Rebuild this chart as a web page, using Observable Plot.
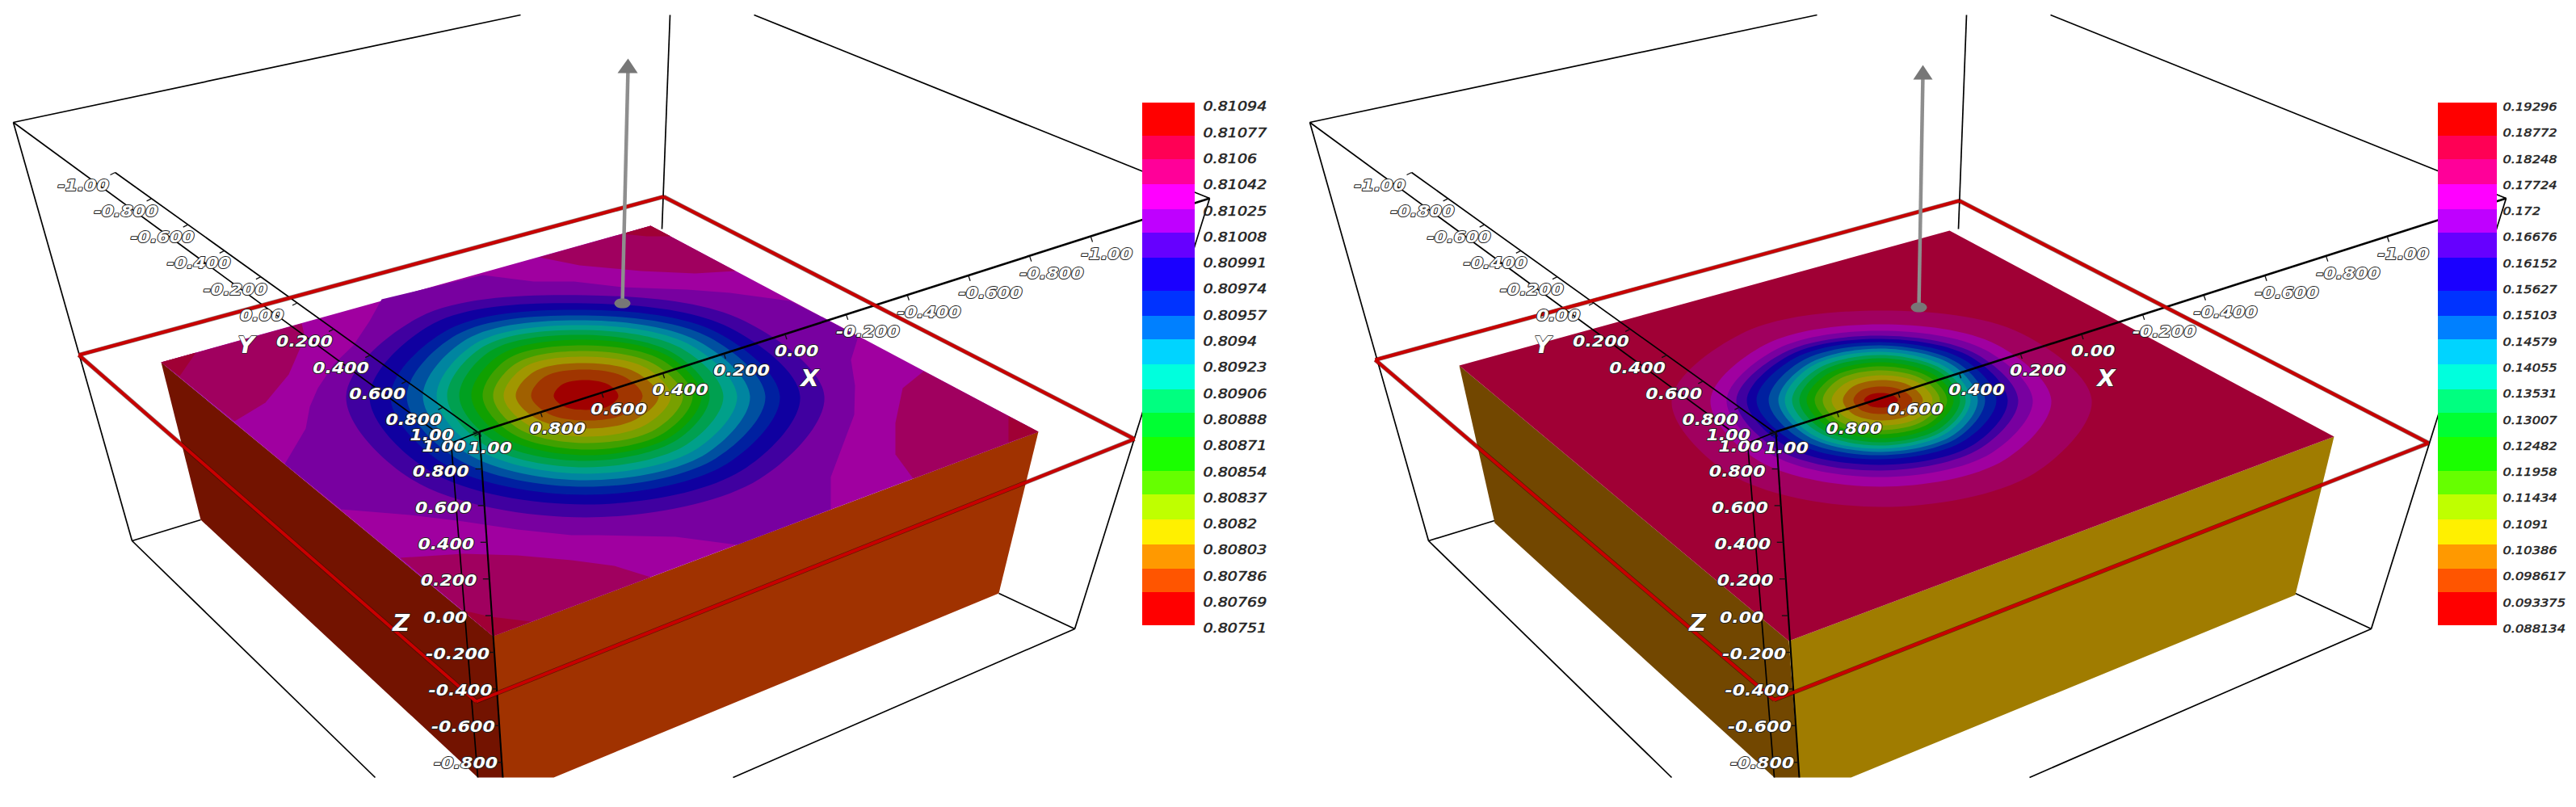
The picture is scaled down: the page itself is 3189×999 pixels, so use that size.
<!DOCTYPE html>
<html><head><meta charset="utf-8">
<script src="https://cdn.jsdelivr.net/npm/d3@7"></script>
<script src="https://cdn.jsdelivr.net/npm/@observablehq/plot@0.6"></script>
<style>
html,body{margin:0;padding:0;background:#fff;width:3189px;height:999px;overflow:hidden}
#row{display:flex;width:3189px;height:999px}
svg{display:block}
</style></head><body><div id="row"></div>
<script>
// ---------- values ----------
const legendLabelsA = ["0.81094","0.81077","0.8106","0.81042","0.81025","0.81008","0.80991","0.80974","0.80957","0.8094","0.80923","0.80906","0.80888","0.80871","0.80854","0.80837","0.8082","0.80803","0.80786","0.80769","0.80751"];
const legendLabelsB = ["0.19296","0.18772","0.18248","0.17724","0.172","0.16676","0.16152","0.15627","0.15103","0.14579","0.14055","0.13531","0.13007","0.12482","0.11958","0.11434","0.1091","0.10386","0.098617","0.093375","0.088134"];
const legendColors = ["#ff0000","#ff0055","#ff0099","#ff00ff","#bf00ff","#6600ff","#1a00ff","#0033ff","#0080ff","#00d4ff","#00ffdd","#00ff80","#00ff33","#1aff00","#66ff00","#bfff00","#fff000","#ff9900","#ff5500","#ff0000"];
// shaded surface colour of each band, centre of the bull's-eye outwards
const surfaceColors = ["#a00000","#a03500","#a06000","#a09700","#78a000","#40a000","#10a000","#00a020","#00a050","#00a08a","#0085a0","#0050a0","#0020a0","#1000a0","#4000a0","#7800a0","#a000a0","#a0005f"];
const tickValues = [-1,-0.8,-0.6,-0.4,-0.2,0,0.2,0.4,0.6,0.8,1];
const tickLabels = ["-1.00","-0.800","-0.600","-0.400","-0.200","0.00","0.200","0.400","0.600","0.800","1.00"];
// contour bands: reach from the bull's-eye along E, NE, N, NW, W, SW, S, SE
const contourReachA = [
 [40,29,20,30,40,27,17,27],[70,49,33,51,68,46,30,47],[90,62,41,64,87,60,40,61],[105,74,49,76,102,73,50,74],
 [120,84,56,86,115,84,58,86],[132,94,63,97,128,94,66,96],[143,103,70,107,142,104,73,105],[153,110,76,118,157,115,80,113],
 [170,121,82,128,172,126,88,125],[187,131,88,137,185,136,96,137],[203,141,94,148,202,148,104,149],[222,153,100,160,222,161,112,161],
 [240,164,107,172,242,176,122,175],[265,178,115,189,268,194,134,193],[295,196,125,206,297,216,150,215]];
const contourReachB = [
 [21,14,9,14,21,14,9,14],[39,26,17,25,34,25,17,26],[52,37,25,35,47,35,25,37],[64,46,31,44,61,44,31,46],
 [73,53,37,53,72,53,37,53],[82,60,42,60,82,60,42,60],[90,66,47,67,92,67,47,66],[98,73,52,74,101,74,52,73],
 [105,78,56,80,110,80,56,78],[111,83,60,87,119,87,60,83],[120,90,64,92,127,92,64,90],[129,96,68,100,139,100,68,96],
 [143,104,72,108,154,108,73,104],[157,112,76,115,166,118,80,115],[170,119,80,122,179,128,87,124],[188,130,86,131,191,138,95,137],
 [211,144,94,144,211,154,107,154],[261,174,111,173,259,189,132,190]];
// outermost band of the left panel, which reaches the edges of the top face
const purpleBandA = [[472,370],[597,340],[660,348],[710,348],[770,355],[850,358],[903,362],[977,372],[1013,390],[1062,416],[1053,445],[1058,477],[1057,513],[1028,590],[1028,630],[912,674],[836,664],[740,662],[707,662],[640,655],[573,645],[507,637],[422,630],[352,574],[378,530],[383,503],[393,480],[413,450],[437,427],[457,397]];
const cornerPatchesA = [
 [[199,448],[373,400],[377,417],[357,463],[328,498],[290,521]],
 [[1143,459],[1285,534],[1130,592],[1108,562],[1108,523],[1117,480]],
 [[495,690],[573,685],[640,687],[707,693],[760,700],[805,714],[610,787]],
 [[667,318],[805,279],[910,335],[860,338],[793,335],[717,328]]];
const cornerTipsA = [
 [[199,448],[242,436],[222,465]],[[1248,515],[1285,534],[1248,547]],
 [[572,755],[607,763],[657,769],[610,787]],[[770,289],[805,279],[830,292],[800,292]]];

// ---------- scene calibration of each view (pixels of the picture) ----------
const spokes = [[1,0],[1,-.476],[0,-1],[-1,-.476],[-1,0],[-1,.476],[0,1],[1,.476]];
const legendEdges = [127,168,197,228,259,288,319,360,391,420,451,482,511,541,583,612,643,674,704,733,774];
const views = [
 {w:1595,d:0,centre:[725,490],reach:contourReachA,base:"#a000a0",patches:cornerPatchesA,tips:cornerTipsA,purple:purpleBandA,
  leftFace:"#731300",rightFace:"#a03200",
  top:[[199,448],[805,279],[1285,534],[610,787]],
  lf:[[199,448],[610,787],[622,962],[591,962],[248,643]],
  rf:[[610,787],[1285,534],[1236,734],[685,962],[622,962]],
  red:[[97,439],[821,243],[1404,543],[589,868]],
  arrow:{b:[770,375],t:[777,84],head:[[764,90],[789,90],[777,72]]},
  legend:{x1:1414,x2:1479,tx:1489,labels:legendLabelsA,size:15,stretch:1.27}},
 {w:1594,d:10,centre:[733,495],reach:contourReachB,base:"#a00035",patches:[],tips:[],purple:null,
  leftFace:"#724700",rightFace:"#a07c00",
  top:[[211,452],[818,285],[1294,540],[619,793]],
  lf:[[211,452],[619,793],[632,962],[601,962],[255,647]],
  rf:[[619,793],[1294,540],[1246,736],[696,962],[632,962]],
  red:[[107,445],[830,248],[1411,548],[601,866]],
  arrow:{b:[780,380],t:[785,92],head:[[773,98],[797,98],[785,80]]},
  legend:{x1:1423,x2:1496,tx:1503,labels:legendLabelsB,size:14,stretch:1.16}}
];
const boxEdges = [
 [[16,151],[644,18]],[[16,151],[163,669]],[[163,669],[248,643]],[[163,669],[464,962]],
 [[829,18],[819,283]],[[933,18],[1497,245]],[[1497,245],[1330,778]],[[1330,778],[1236,734]],[[1330,778],[907,962]]];
const nearEdges = [[[16,151],[558,548]],[[558,548],[593,534]],[[558,548],[591,962]]];
const xAxis = {a:[593,534],b:[1350,293],end:[1497,245]};
const yAxis = {a:[142,213],b:[593,536]};
const zAxis = {a:[593,534.6],stepY:45.4,slope:.0678,end:[622,962]};
const xLab = {o:[579,554],s:[75.9,-23.95]}, yLab = {o:[71,229],s:[45.1,32.3]}, zLab = {o:[507,538],s:[3.3,45.2]};
const titles = [{t:"X",p:[1002,468]},{t:"Y",p:[304,427]},{t:"Z",p:[496,771]}];
const ball = [[-10,0],[-7,-4.5],[0,-6],[7,-4.5],[10,0],[7,4.5],[0,6],[-7,4.5]];

const poly = (pts,fill,extra={}) => Plot.line(pts.map(([x,y])=>({x,y})),{x:"x",y:"y",fill,stroke:"none",...extra});
const segs = (list,opt) => Plot.link(list,{x1:d=>d[0][0],y1:d=>d[0][1],x2:d=>d[1][0],y2:d=>d[1][1],...opt});

function drawView(v){
 const sh = p => [p[0]+v.d,p[1]];
 const marks = [];
 marks.push(segs(boxEdges.map(e=>e.map(sh)),{stroke:"#000",strokeWidth:1.7}));
 marks.push(poly(v.lf,v.leftFace),poly(v.rf,v.rightFace),poly(v.top,v.base));
 v.patches.forEach(p=>marks.push(poly(p,surfaceColors[17])));
 v.tips.forEach(p=>marks.push(poly(p,"#a00035")));
 if(v.purple) marks.push(poly(v.purple,surfaceColors[15]));
 for(let k=v.reach.length-1;k>=0;k--){
  const pts=v.reach[k].map((r,i)=>[v.centre[0]+r*spokes[i][0],v.centre[1]+r*spokes[i][1]]);
  marks.push(poly(pts,surfaceColors[k],{curve:"catmull-rom-closed"}));
 }
 marks.push(segs(nearEdges.map(e=>e.map(sh)),{stroke:"#000",strokeWidth:1.7}));
 // axes
 const xAt=t=>{const k=(1-t)/2;return [xAxis.a[0]+k*(xAxis.b[0]-xAxis.a[0])+v.d,xAxis.a[1]+k*(xAxis.b[1]-xAxis.a[1])]};
 const yAt=t=>{const k=(t+1)/2;return [yAxis.a[0]+k*(yAxis.b[0]-yAxis.a[0])+v.d,yAxis.a[1]+k*(yAxis.b[1]-yAxis.a[1])]};
 const zAt=t=>{const y=zAxis.a[1]+(1-t)/.2*zAxis.stepY;return [zAxis.a[0]+(y-zAxis.a[1])*zAxis.slope+v.d,y]};
 marks.push(segs([[sh(xAxis.a),sh(xAxis.end)]],{stroke:"#000",strokeWidth:2.6}));
 marks.push(segs([[sh(yAxis.a),sh(yAxis.b)]],{stroke:"#000",strokeWidth:1.7}));
 marks.push(segs([[sh(zAxis.a),sh(zAxis.end)]],{stroke:"#000",strokeWidth:2.1}));
 marks.push(segs(tickValues.map(t=>{const p=xAt(t);return [p,[p[0]+2,p[1]+6]]}),{stroke:"#111",strokeWidth:1.3}));
 marks.push(segs(tickValues.map(t=>{const p=yAt(t);return [p,[p[0]-6,p[1]+3]]}),{stroke:"#111",strokeWidth:1.3}));
 marks.push(segs(tickValues.slice(1).map(t=>{const p=zAt(t);return [p,[p[0]-8,p[1]]]}),{stroke:"#111",strokeWidth:1.3}));
 // the slice outline, with the dark casing it shows in the render
 const redEdges=v.red.map((p,i)=>[p,v.red[(i+1)%4]]);
 marks.push(segs(redEdges,{stroke:"#300",strokeWidth:5.4,strokeOpacity:.55}));
 marks.push(segs(redEdges,{stroke:"#c80000",strokeWidth:4}));
 // arrow
 marks.push(segs([[v.arrow.b,v.arrow.t]],{stroke:"#8e8e8e",strokeWidth:4.5}));
 marks.push(poly(v.arrow.head,"#777"));
 marks.push(poly(ball.map(o=>[v.arrow.b[0]+o[0],v.arrow.b[1]+o[1]]),"#777",{curve:"catmull-rom-closed"}));
 // axis numbers
 const white = {fill:"#fff",stroke:"#222",strokeWidth:1.8,paintOrder:"stroke",fontSize:19,fontStyle:"italic",fontWeight:600,textAnchor:"start",className:"axisnum"};
 const lab=(o,k,t)=>({t,x:o.o[0]+k*o.s[0]+v.d,y:o.o[1]+k*o.s[1]});
 const nums=[];
 tickValues.forEach((t,i)=>{
  nums.push(lab(yLab,i,tickLabels[i]));
  nums.push(lab(xLab,10-i,tickLabels[i]));
  if(i>0) nums.push(lab(zLab,10-i,tickLabels[i]));
 });
 marks.push(Plot.text(nums,{x:"x",y:"y",text:"t",...white}));
 marks.push(Plot.text(titles.map(d=>({t:d.t,x:d.p[0]+v.d,y:d.p[1]})),{x:"x",y:"y",text:"t",fill:"#fff",stroke:"#222",strokeWidth:1.3,paintOrder:"stroke",fontSize:29,fontStyle:"italic",fontWeight:700,textAnchor:"middle"}));
 // legend
 const L=v.legend;
 marks.push(Plot.rect(legendColors.map((c,i)=>({c,y1:legendEdges[i],y2:legendEdges[i+1]})),{x1:L.x1,x2:L.x2,y1:"y1",y2:"y2",fill:"c"}));
 marks.push(Plot.text(L.labels.map((t,i)=>({t,y:132+i*32.3})),{x:L.tx,y:"y",text:"t",fill:"#222",stroke:"#333",strokeWidth:.5,fontSize:L.size,fontStyle:"italic",textAnchor:"start",className:"legnum"+(L.size)}));
 return Plot.plot({width:v.w,height:999,margin:0,
  style:{background:"#fff",fontFamily:"'DejaVu Sans'"},
  x:{domain:[0,v.w],range:[0,v.w],axis:null},
  y:{domain:[0,999],range:[0,999],axis:null},
  color:{type:"identity"},
  marks});
}
const row=document.getElementById("row");
views.forEach(v=>{row.appendChild(drawView(v))});
function stretch(sel,f){
 document.querySelectorAll(sel+" text").forEach(t=>{
  const w=t.getComputedTextLength();
  if(w>0){t.setAttribute("textLength",(w*f).toFixed(1));t.setAttribute("lengthAdjust","spacingAndGlyphs");}
 });
}
stretch(".axisnum",1.16);stretch(".legnum15",1.27);stretch(".legnum14",1.16);
</script></body></html>
